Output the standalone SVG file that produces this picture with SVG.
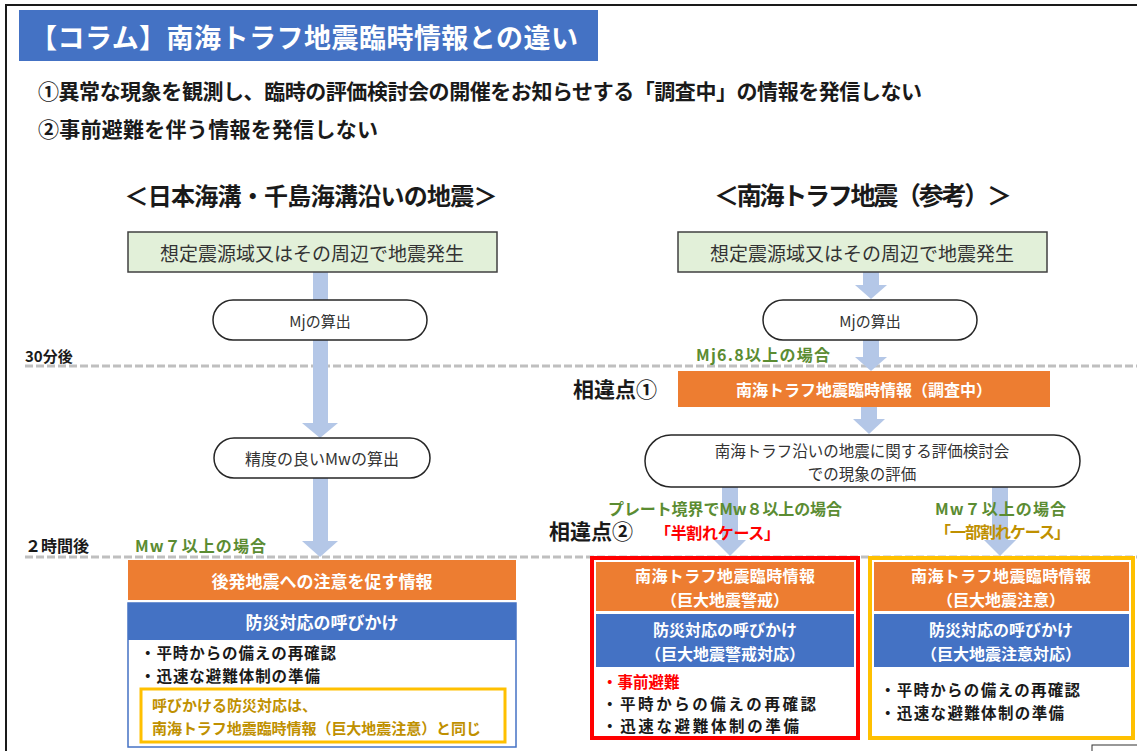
<svg xmlns="http://www.w3.org/2000/svg" width="1137" height="751" viewBox="0 0 1137 751">
<defs>
<style>
text{font-family:"Noto Sans CJK JP","Noto Sans CJK SC",sans-serif;dominant-baseline:central;fill:#1a1a1a}
.b{font-weight:700}
.w{fill:#fff}
.c{text-anchor:middle}
.grn{fill:#5B8C32}
.red{fill:#FF0000}
.gold{fill:#BF9000}
.arrow{fill:#B4C7E7}
.dash{stroke:#BFBFBF;stroke-width:3;stroke-dasharray:8 3;fill:none}
.gbox{fill:#E2F0D9;stroke:#404040;stroke-width:1.5}
.pill{fill:#fff;stroke:#262626;stroke-width:1.5}
.org{fill:#ED7D31}
.blu{fill:#4472C4}
.lt{font-weight:400;fill:#333}
.bl{font-size:15.5px;font-weight:700}
.hd{font-size:16px;font-weight:700;fill:#fff;text-anchor:middle}
</style>
</defs>
<rect width="1137" height="751" fill="#fff"/>
<path d="M6 751 V5 H1137" stroke="#1a1a1a" stroke-width="2" fill="none"/>

<g id="title">
<rect x="19" y="10" width="579" height="51" class="blu"/>
<text x="30" y="36" font-size="27" class="b w" textLength="548">【コラム】南海トラフ地震臨時情報との違い</text>
</g>
<g id="points">
<text x="38" y="90" font-size="21" class="b" textLength="884">①異常な現象を観測し、臨時の評価検討会の開催をお知らせする「調査中」の情報を発信しない</text>
<text x="38" y="128" font-size="21" class="b" textLength="340">②事前避難を伴う情報を発信しない</text>
</g>
<g id="headers">
<text x="311" y="194" font-size="24" class="b c" textLength="373">＜日本海溝・千島海溝沿いの地震＞</text>
<text x="863" y="194" font-size="25" class="b c" textLength="298">＜南海トラフ地震（参考）＞</text>
</g>

<g id="timelines">
<line x1="25" y1="366" x2="1137" y2="366" class="dash"/>
<line x1="25" y1="557" x2="1137" y2="557" class="dash"/>
<text x="25" y="355" font-size="15" class="b">30分後</text>
<text x="25" y="545" font-size="16" class="b">２時間後</text>
</g>

<g id="connectors">
<rect x="313" y="271" width="15" height="153" class="arrow"/>
<polygon points="302,423 338,423 320,438" class="arrow"/>
<rect x="313" y="478" width="15" height="64" class="arrow"/>
<polygon points="302,541 338,541 320,557" class="arrow"/>
<rect x="863" y="271" width="16" height="15" class="arrow"/>
<polygon points="855,285 887,285 871,299" class="arrow"/>
<rect x="863" y="339" width="16" height="19" class="arrow"/>
<polygon points="855,357 887,357 871,371" class="arrow"/>
<rect x="861" y="407" width="16" height="13" class="arrow"/>
<polygon points="853,419 885,419 869,434" class="arrow"/>
<rect x="722" y="487" width="16" height="54" class="arrow"/>
<polygon points="714,540 746,540 730,556" class="arrow"/>
<rect x="992" y="487" width="16" height="54" class="arrow"/>
<polygon points="984,540 1016,540 1000,556" class="arrow"/>
</g>

<g id="labels">
<text x="696" y="354" font-size="16" class="b grn" textLength="134">Mj6.8以上の場合</text>
<text x="135" y="545" font-size="16" class="b grn" textLength="131">Mw７以上の場合</text>
<text x="608" y="508" font-size="16" class="b grn" textLength="234">プレート境界でMw８以上の場合</text>
<text x="655" y="532" font-size="16" class="b red" textLength="125">「半割れケース」</text>
<text x="935" y="508" font-size="16" class="b grn" textLength="131">Mw７以上の場合</text>
<text x="935" y="531" font-size="16" class="b gold" textLength="135">「一部割れケース」</text>
<text x="573" y="388" font-size="21" class="b">相違点①</text>
<text x="549" y="530" font-size="21" class="b">相違点②</text>
</g>

<g id="left-quake">
<rect x="128" y="232" width="369" height="40" class="gbox"/>
<text x="312" y="252" font-size="19" class="lt c">想定震源域又はその周辺で地震発生</text>
</g>
<g id="left-mj">
<rect x="213" y="300" width="214" height="40" rx="20" class="pill"/>
<text x="320" y="320" font-size="15" class="lt c">Mjの算出</text>
</g>
<g id="left-mw">
<rect x="214" y="438" width="216" height="40" rx="20" class="pill"/>
<text x="322" y="458" font-size="16" class="lt c">精度の良いMwの算出</text>
</g>
<g id="left-info">
<rect x="128" y="560" width="388" height="40" class="org"/>
<text x="322" y="580" font-size="17" class="b w c">後発地震への注意を促す情報</text>
<rect x="128" y="603" width="388" height="144" fill="#fff" stroke="#4472C4" stroke-width="1.5"/>
<rect x="128" y="603" width="388" height="37" class="blu"/>
<text x="322" y="621" font-size="17" class="b w c">防災対応の呼びかけ</text>
<text x="140" y="652" class="bl" textLength="196">・平時からの備えの再確認</text>
<text x="140" y="675" class="bl" textLength="180">・迅速な避難体制の準備</text>
<rect x="141" y="689" width="364" height="53" fill="none" stroke="#FFC000" stroke-width="3"/>
<text x="152" y="704.5" font-size="15" class="b gold">呼びかける防災対応は、</text>
<text x="152" y="727" font-size="15" class="b gold" textLength="329">南海トラフ地震臨時情報（巨大地震注意）と同じ</text>
</g>

<g id="right-quake">
<rect x="678" y="232" width="369" height="40" class="gbox"/>
<text x="862" y="252" font-size="19" class="lt c">想定震源域又はその周辺で地震発生</text>
</g>
<g id="right-mj">
<rect x="763" y="300" width="214" height="40" rx="20" class="pill"/>
<text x="870" y="320" font-size="15" class="lt c">Mjの算出</text>
</g>
<g id="right-survey">
<rect x="678" y="371" width="372" height="36" class="org"/>
<text x="864" y="389" font-size="16" class="b w c">南海トラフ地震臨時情報（調査中）</text>
</g>
<g id="right-eval">
<rect x="645" y="435" width="435" height="52" rx="26" class="pill"/>
<text x="862" y="450" font-size="15.5" class="lt c">南海トラフ沿いの地震に関する評価検討会</text>
<text x="862" y="473" font-size="15.5" class="lt c">での現象の評価</text>
</g>
<g id="right-warning">
<rect x="592" y="558" width="266" height="180" fill="#fff" stroke="#FF0000" stroke-width="4"/>
<rect x="596" y="562" width="258" height="49" class="org"/>
<rect x="596" y="614" width="258" height="53" class="blu"/>
<text x="725" y="574.5" class="hd" textLength="180">南海トラフ地震臨時情報</text>
<text x="725" y="598.5" class="hd">（巨大地震警戒）</text>
<text x="725" y="629" class="hd">防災対応の呼びかけ</text>
<text x="725" y="653" class="hd">（巨大地震警戒対応）</text>
<text x="602" y="681" class="bl red">・事前避難</text>
<text x="602" y="703" class="bl" textLength="214">・平時からの備えの再確認</text>
<text x="602" y="725" class="bl" textLength="197">・迅速な避難体制の準備</text>
</g>
<g id="right-caution">
<rect x="870" y="558" width="263" height="180" fill="#fff" stroke="#FFC000" stroke-width="4"/>
<rect x="874" y="562" width="255" height="49" class="org"/>
<rect x="874" y="614" width="255" height="53" class="blu"/>
<text x="1001" y="574.5" class="hd" textLength="180">南海トラフ地震臨時情報</text>
<text x="1001" y="598.5" class="hd">（巨大地震注意）</text>
<text x="1001" y="629" class="hd">防災対応の呼びかけ</text>
<text x="1001" y="653" class="hd">（巨大地震注意対応）</text>
<text x="880" y="689" class="bl" textLength="200">・平時からの備えの再確認</text>
<text x="880" y="712" class="bl" textLength="184">・迅速な避難体制の準備</text>
</g>
<g id="page-box">
<rect x="1092" y="745" width="50" height="20" fill="#fff" stroke="#333" stroke-width="1"/>
</g>
</svg>
